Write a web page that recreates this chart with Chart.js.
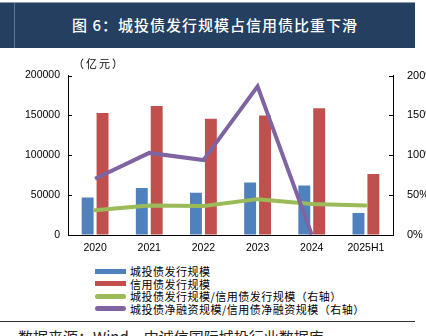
<!DOCTYPE html>
<html><head><meta charset="utf-8">
<script src="https://cdn.jsdelivr.net/npm/chart.js@4/dist/chart.umd.min.js"></script>
<style>
html,body{margin:0;padding:0;background:#fff;width:426px;height:336px;overflow:hidden;position:relative;font-family:"Noto Sans CJK SC","Liberation Sans",sans-serif;}
#title{position:absolute;left:0;top:2px;width:415px;height:46px;background:#243F60;border-top:1px solid #8a9bb3;box-sizing:border-box;}
#title .sep{position:absolute;left:14px;top:0;width:1px;height:100%;background:#5b7593;}
#title .txt{position:absolute;left:0;width:430px;top:0;height:44px;line-height:44px;text-align:center;color:#fff;font-size:15px;letter-spacing:1px;font-weight:500;}
#wrap{position:absolute;left:0;top:55px;width:426px;height:205px;}
#unit{position:absolute;left:73px;top:56px;font-size:11px;letter-spacing:2px;color:#000;line-height:14px;}
#legend{position:absolute;left:95px;top:265px;}
.li{height:12.5px;display:flex;align-items:center;font-size:11px;color:#000;white-space:nowrap;}
.sw{width:31px;height:5px;margin-right:4px;}
#rule{position:absolute;left:0;top:321px;width:415px;height:1px;background:#333;}
#src{position:absolute;left:18px;top:328px;font-size:15px;line-height:18px;color:#222;white-space:nowrap;}
</style></head>
<body>
<div id="title"><div class="sep"></div><div class="txt">图 6：城投债发行规模占信用债比重下滑</div></div>
<div id="wrap"><canvas id="c"></canvas></div>
<div id="unit">（亿元）</div>
<div id="legend"></div>
<div id="rule"></div>
<div id="src">数据来源：Wind，中诚信国际城投行业数据库</div>
<script>
const categories = ["2020","2021","2022","2023","2024","2025H1"];
const chengtouIssue = [47000, 59000, 53000, 66000, 62000, 27700];
const creditIssue = [153000, 162000, 146000, 150000, 159000, 76500];
const issueRatio = [31, 37, 36.5, 45, 39, 37];
const netFinRatio = [70.5, 103, 94, 186.5, 0.5, null];
const leftTicks = [0, 50000, 100000, 150000, 200000];
const rightTicks = [0, 50, 100, 150, 200];
const seriesNames = ["城投债发行规模","信用债发行规模","城投债发行规模/信用债发行规模（右轴）","城投债净融资规模/信用债净融资规模（右轴）"];
const colors = ["#4F81BD","#C0504D","#9BBB59","#8064A2"];

const tickFont = {family:"'Liberation Sans', Arial, sans-serif", size:10.5};

const innerTicks = {
  id:'innerTicks',
  afterDraw(chart){
    const ctx = chart.ctx;
    ctx.save();
    ctx.strokeStyle = '#000';
    ctx.lineWidth = 1;
    const y = chart.scales.y, y1 = chart.scales.y1;
    y.ticks.forEach(t=>{const p=Math.round(y.getPixelForValue(t.value))+0.5;ctx.beginPath();ctx.moveTo(y.right,p);ctx.lineTo(y.right+4,p);ctx.stroke();});
    y1.ticks.forEach(t=>{const p=Math.round(y1.getPixelForValue(t.value))+0.5;ctx.beginPath();ctx.moveTo(y1.left,p);ctx.lineTo(y1.left-4,p);ctx.stroke();});
    ctx.restore();
  }
};

new Chart(document.getElementById('c'), {
  data: {
    labels: categories,
    datasets: [
      {type:'bar', label:seriesNames[0], data:chengtouIssue, backgroundColor:colors[0], yAxisID:'y', order:2, categoryPercentage:0.55, barPercentage:0.8},
      {type:'bar', label:seriesNames[1], data:creditIssue, backgroundColor:colors[1], yAxisID:'y', order:2, categoryPercentage:0.55, barPercentage:0.8},
      {type:'line', label:seriesNames[2], data:issueRatio, borderColor:colors[2], borderWidth:4, pointRadius:0, tension:0, yAxisID:'y1', order:1, borderJoinStyle:'round', borderCapStyle:'round'},
      {type:'line', label:seriesNames[3], data:netFinRatio, borderColor:colors[3], borderWidth:4, pointRadius:0, tension:0, yAxisID:'y1', order:0, borderJoinStyle:'miter', borderCapStyle:'butt'}
    ]
  },
  options: {
    responsive:true, maintainAspectRatio:false, animation:false,
    layout:{padding:{top:12,left:0,right:0,bottom:0}},
    plugins:{legend:{display:false}, tooltip:{enabled:false}},
    scales:{
      x:{
        grid:{display:false, drawTicks:false},
        border:{display:true,color:'#000',width:1},
        ticks:{font:tickFont,color:'#000',padding:7,maxRotation:0,autoSkip:false},
        afterFit(s){s.height=25;}
      },
      y:{
        position:'left', min:0, max:200000,
        afterBuildTicks(s){s.ticks = leftTicks.map(v=>({value:v}));},
        grid:{drawOnChartArea:false, drawTicks:false},
        border:{display:true,color:'#000',width:1},
        ticks:{font:tickFont,color:'#000',padding:8, callback:v=>String(v)},
        afterFit(s){s.width=68;}
      },
      y1:{
        position:'right', min:0, max:200,
        afterBuildTicks(s){s.ticks = rightTicks.map(v=>({value:v}));},
        grid:{drawOnChartArea:false, drawTicks:false},
        border:{display:true,color:'#000',width:1},
        ticks:{font:{family:tickFont.family,size:11},color:'#000',padding:14, callback:v=>v+'%'},
        afterFit(s){s.width=33;}
      }
    }
  },
  plugins:[innerTicks]
});

const lg = document.getElementById('legend');
seriesNames.forEach((n,i)=>{
  const d = document.createElement('div'); d.className='li';
  const sw = document.createElement('span'); sw.className='sw'; sw.style.background=colors[i];
  if(i>=2){sw.style.borderRadius='3px';}
  d.appendChild(sw);
  const t = document.createElement('span'); t.textContent=n; t.style.letterSpacing='0.5px';
  d.appendChild(t);
  lg.appendChild(d);
});
</script>
</body></html>
